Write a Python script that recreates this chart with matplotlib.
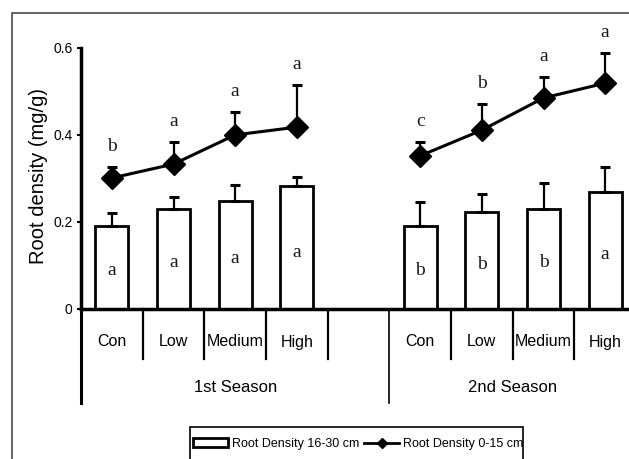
import matplotlib
matplotlib.use("Agg")
import matplotlib.pyplot as plt
from matplotlib.patches import Rectangle, Patch
from matplotlib.lines import Line2D

# ---------- data ----------
treatments = ["Con", "Low", "Medium", "High"]
seasons = ["1st Season", "2nd Season"]

# root density 16-30 cm (bars)
deep_s1 = [0.190, 0.229, 0.248, 0.282]
deep_err_s1 = [0.030, 0.028, 0.035, 0.021]
deep_s2 = [0.190, 0.222, 0.229, 0.268]
deep_err_s2 = [0.055, 0.041, 0.060, 0.058]

# root density 0-15 cm (line)
top_s1 = [0.300, 0.332, 0.399, 0.417]
top_err_s1 = [0.025, 0.051, 0.053, 0.097]
top_s2 = [0.351, 0.410, 0.484, 0.518]
top_err_s2 = [0.032, 0.060, 0.048, 0.069]

# significance letters
deep_letters_s1 = ["a", "a", "a", "a"]
deep_letters_s2 = ["b", "b", "b", "a"]
top_letters_s1 = ["b", "a", "a", "a"]
top_letters_s2 = ["c", "b", "a", "a"]

yticks = [0, 0.2, 0.4, 0.6]
ytick_labels = ["0", "0.2", "0.4", "0.6"]

SANS = ["Liberation Sans", "DejaVu Sans"]
SERIF = ["Liberation Serif", "DejaVu Serif"]

W, H = 629, 459
fig = plt.figure(figsize=(W / 100, H / 100), dpi=100)

# outer frame (runs off the right and bottom edges)
fig.patches.append(Rectangle((12 / W, -0.2), 1.2, 1.2 - 13 / H,
                             transform=fig.transFigure, fill=False,
                             edgecolor="#4a4a4a", linewidth=1.2))

ax = fig.add_axes([81 / W, 150.5 / H, 555 / W, 261 / H])
ax.set_xlim(-0.5, 8.5)
ax.set_ylim(0, 0.6)

x_s1 = [0, 1, 2, 3]
x_s2 = [5, 6, 7, 8]
bar_w = 0.54

for xs, vals, errs, lets in [(x_s1, deep_s1, deep_err_s1, deep_letters_s1),
                             (x_s2, deep_s2, deep_err_s2, deep_letters_s2)]:
    ax.bar(xs, vals, width=bar_w, color="white", edgecolor="black",
           linewidth=2, zorder=2)
    ax.errorbar(xs, vals, yerr=[[0] * len(errs), errs], fmt="none",
                ecolor="black", elinewidth=1.6, capsize=3.6, capthick=2.2,
                zorder=3)
    for x, v, t in zip(xs, vals, lets):
        ax.text(x, v * 0.46, t, ha="center", va="center", fontsize=14,
                family=SERIF, color="#1a1a1a", zorder=4)

for xs, vals, errs, lets in [(x_s1, top_s1, top_err_s1, top_letters_s1),
                             (x_s2, top_s2, top_err_s2, top_letters_s2)]:
    ax.errorbar(xs, vals, yerr=[[0] * len(errs), errs], fmt="none",
                ecolor="black", elinewidth=1.6, capsize=3.6, capthick=2.2,
                zorder=3)
    ax.plot(xs, vals, color="black", linewidth=2.2, marker="D",
            markersize=11, zorder=4)
    for x, v, e, t in zip(xs, vals, errs, lets):
        ax.annotate(t, (x, v + e), xytext=(0, 15), textcoords="offset points",
                    ha="center", va="center", fontsize=14, family=SERIF,
                    color="#1a1a1a", annotation_clip=False)

# axes styling
for s in ["top", "right"]:
    ax.spines[s].set_visible(False)
ax.spines["left"].set_linewidth(2.5)
ax.spines["bottom"].set_linewidth(2.5)
ax.set_yticks(yticks)
ax.set_yticklabels(ytick_labels, family=SANS, fontsize=10)
ax.tick_params(axis="y", direction="out", length=3, width=1.5, pad=3)
ax.tick_params(axis="x", length=0, labelbottom=False)
ax.set_xticks([])

# category table under the x axis
tr = ax.get_xaxis_transform()
short_y = -50 / 261
long_y = -94.5 / 261
for sx in [0.5, 1.5, 2.5, 3.5, 5.5, 6.5, 7.5]:
    ax.plot([sx, sx], [0, short_y], transform=tr, color="black",
            linewidth=1.6, clip_on=False)
ax.plot([-0.5, -0.5], [0, long_y], transform=tr, color="black",
        linewidth=2.2, clip_on=False)
for sx in [4.5, 8.5]:
    ax.plot([sx, sx], [0, long_y], transform=tr, color="black",
            linewidth=1.2, clip_on=False)

for xs in (x_s1, x_s2):
    for x, name in zip(xs, treatments):
        ax.text(x, -33.5 / 261, name, transform=tr, ha="center", va="center",
                fontsize=11.5, family=SANS)
for cx, name in zip([2, 6.5], seasons):
    ax.text(cx, -79.5 / 261, name, transform=tr, ha="center", va="center",
            fontsize=12, family=SANS)

fig.text(39 / W, 1 - 176.5 / H, "Root density (mg/g)", rotation=90,
         ha="center", va="center", fontsize=14.5, family=SANS)

# legend box (bottom runs off the page)
fig.patches.append(Rectangle((190 / W, -0.2), 333 / W, 0.2 + 1 - 427 / H,
                             transform=fig.transFigure, fill=False,
                             edgecolor="black", linewidth=1.2))
handles = [Patch(facecolor="white", edgecolor="black", linewidth=2),
           Line2D([0], [0], color="black", linewidth=2, marker="D",
                  markersize=5)]
fig.legend(handles, ["Root Density 16-30 cm", "Root Density 0-15 cm"],
           loc="center left", bbox_to_anchor=(193 / W, 1 - 444 / H),
           ncol=2, frameon=False, prop={"family": SANS, "size": 9},
           handlelength=2.8, handleheight=0.7, handletextpad=0.3,
           columnspacing=0.4, borderpad=0, borderaxespad=0)

fig.savefig("out.png", dpi=100)
